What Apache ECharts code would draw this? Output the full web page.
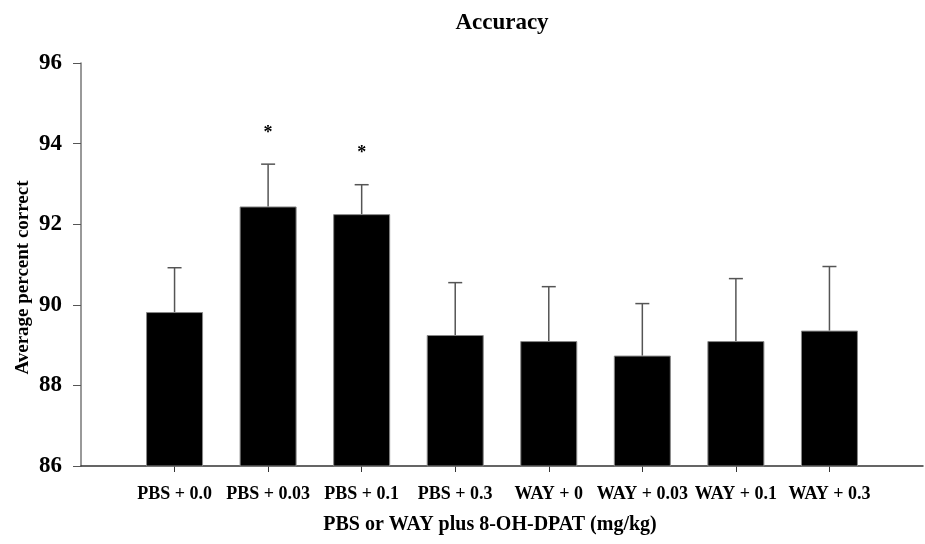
<!DOCTYPE html>
<html>
<head>
<meta charset="utf-8">
<script src="https://cdn.jsdelivr.net/npm/echarts@6/dist/echarts.min.js"></script>
<style>
html,body{margin:0;padding:0;background:#fff;}
#chart{width:925px;height:544px;}
</style>
</head>
<body>
<div id="chart"></div>
<script>
var categories = ['PBS + 0.0','PBS + 0.03','PBS + 0.1','PBS + 0.3','WAY + 0','WAY + 0.03','WAY + 0.1','WAY + 0.3'];
var means = [89.82, 92.44, 92.25, 89.25, 89.10, 88.74, 89.10, 89.36];
var errTops = [90.92, 93.49, 92.98, 90.55, 90.45, 90.03, 90.65, 90.95];
var stars = ['', '*', '*', '', '', '', '', ''];
var yTicks = [86, 88, 90, 92, 94, 96];

var FONT = '"Liberation Serif", "Times New Roman", serif';
var axisData = [''].concat(categories).concat(['']);
var barData = [null].concat(means).concat([null]);
var errData = means.map(function (m, i) { return [i + 1, m, errTops[i]]; });
var starData = [];
stars.forEach(function (s, i) { if (s) starData.push([i + 1, errTops[i], s]); });

var chart = echarts.init(document.getElementById('chart'), null, {renderer: 'canvas'});
chart.setOption({
  animation: false,
  backgroundColor: '#fff',
  title: {
    text: 'Accuracy', left: 497, top: 7, textAlign: 'center',
    textStyle: {fontFamily: FONT, fontWeight: 'bold', fontSize: 23, color: '#000'}
  },
  grid: {left: 81, right: 2, top: 63, bottom: 78, containLabel: false, outerBoundsMode: 'none'},
  xAxis: {
    type: 'category', data: axisData, boundaryGap: false,
    name: 'PBS or WAY plus 8-OH-DPAT (mg/kg)', nameLocation: 'middle', nameGap: 49,
    nameTextStyle: {fontFamily: FONT, fontWeight: 'bold', fontSize: 20, color: '#000', padding: [0, 24, 0, 0]},
    axisLine: {lineStyle: {color: '#333', width: 1.5}},
    axisTick: {length: 6, lineStyle: {color: '#333'}, interval: function (i) { return i > 0 && i < axisData.length - 1; }},
    axisLabel: {interval: 0, margin: 19, fontFamily: FONT, fontWeight: 'bold', fontSize: 18, color: '#000'},
    splitLine: {show: false}
  },
  yAxis: {
    type: 'value', min: yTicks[0], max: yTicks[yTicks.length - 1], interval: 2,
    name: 'Average percent correct', nameLocation: 'middle', nameGap: 48, nameRotate: 90,
    nameMoveOverlap: false,
    nameTextStyle: {fontFamily: FONT, fontWeight: 'bold', fontSize: 19, color: '#000', padding: [0, 26, 0, 0]},
    axisLine: {show: true, lineStyle: {color: '#777', width: 1.5}},
    axisTick: {show: true, length: 8, lineStyle: {color: '#555'}},
    axisLabel: {margin: 19, fontFamily: FONT, fontWeight: 'bold', fontSize: 23, color: '#000'},
    splitLine: {show: false}
  },
  series: [
    {
      type: 'bar', data: barData, barWidth: 57,
      itemStyle: {color: '#000', borderColor: '#888', borderWidth: 1},
      z: 2
    },
    {
      type: 'custom', data: errData, z: 3,
      renderItem: function (params, api) {
        var x = api.value(0);
        var base = api.coord([x, api.value(1)]);
        var top = api.coord([x, api.value(2)]);
        var hw = 7;
        return {
          type: 'group',
          children: [
            {type: 'line', shape: {x1: base[0], y1: base[1], x2: top[0], y2: top[1]}, style: {stroke: '#555', lineWidth: 1.5}},
            {type: 'line', shape: {x1: top[0] - hw, y1: top[1], x2: top[0] + hw, y2: top[1]}, style: {stroke: '#555', lineWidth: 1.5}}
          ]
        };
      }
    },
    {
      type: 'custom', data: starData, z: 4,
      renderItem: function (params, api) {
        var p = api.coord([api.value(0), api.value(1)]);
        return {
          type: 'text',
          style: {
            x: p[0], y: p[1] - 31, text: starData[params.dataIndex][2],
            textAlign: 'center', textVerticalAlign: 'middle',
            font: 'bold 18px ' + FONT, fill: '#000'
          }
        };
      }
    }
  ]
});
</script>
</body>
</html>
